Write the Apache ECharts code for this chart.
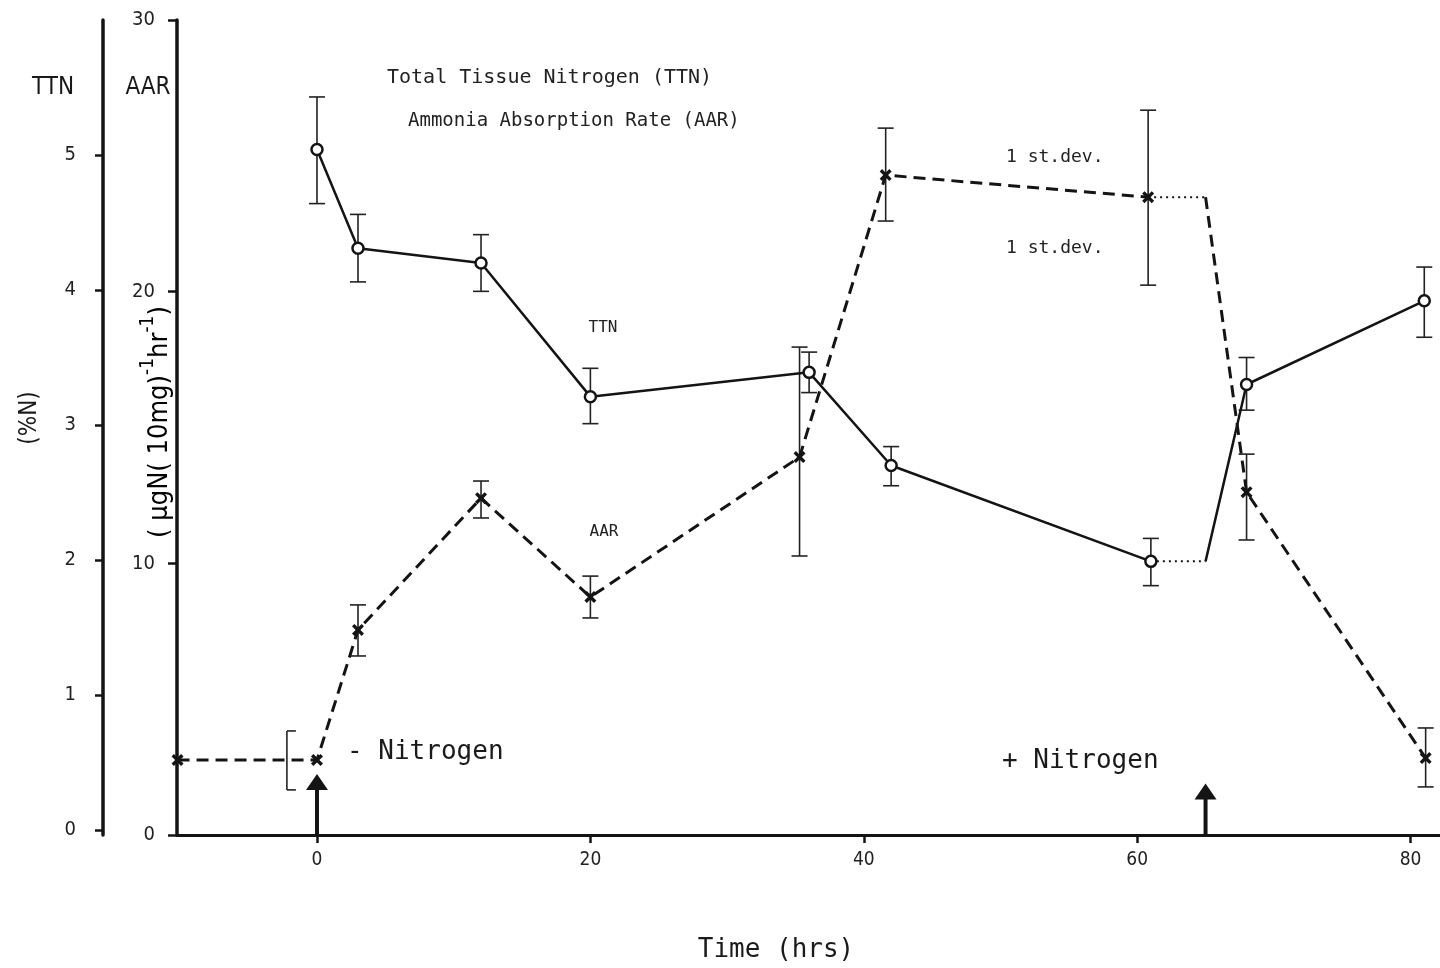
<!DOCTYPE html>
<html>
<head>
<meta charset="utf-8">
<script src="https://cdn.jsdelivr.net/npm/echarts@6/dist/echarts.min.js"></script>
<style>
  html, body { margin: 0; padding: 0; background: #fff; }
  #chart { width: 1440px; height: 968px; }
</style>
</head>
<body>
<div id="chart"></div>
<script>
// ---- Data ----
const xTicks = [0, 20, 40, 60, 80];
const ttnTicks = [0, 1, 2, 3, 4, 5];
const aarTicks = [0, 10, 20, 30];

// Total Tissue Nitrogen (%N)
const ttnHours = [0, 3, 12, 20, 36, 42, 61, 68, 81];
const ttnValues = [5.04, 4.31, 4.20, 3.21, 3.39, 2.70, 1.99, 3.30, 3.92];
const ttnLow = [4.64, 4.06, 3.99, 3.01, 3.24, 2.55, 1.81, 3.11, 3.65];
const ttnHigh = [5.43, 4.56, 4.41, 3.42, 3.54, 2.84, 2.16, 3.50, 4.17];

// Ammonia Absorption Rate (µgN (10mg)^-1 hr^-1)
const aarHours = [-10.2, 0, 3, 12, 20, 35.3, 41.6, 60.8, 68, 81.1];
const aarValues = [2.76, 2.76, 7.55, 12.40, 8.76, 13.91, 24.29, 23.48, 12.62, 2.83];
const aarLow = [null, null, 6.59, 11.67, 7.99, 10.27, 22.60, 20.24, 10.86, 1.77];
const aarHigh = [null, null, 8.47, 13.03, 9.53, 17.96, 26.02, 26.68, 14.02, 3.94];
// st.dev. bracket of the control period, drawn just left of the 0 h point
const aarControlBracket = [-2.2, 1.66, 3.83];

// Nitrogen removed (0 h) and re-supplied (65 h)
const nitrogenChangeHours = [0, 65];
const arrowTops = [2.25, 1.9]; // in AAR units

// ---- Helpers ----
function splitSeries(xs, ys, t) {
  const before = [], after = [];
  xs.forEach((x, i) => { if (x < t) before.push([x, ys[i]]); else after.push([x, ys[i]]); });
  const last = before[before.length - 1];
  const joint = [t, last[1]];
  return { before, dotted: [last, joint], after: [joint].concat(after) };
}
const ttnParts = splitSeries(ttnHours, ttnValues, nitrogenChangeHours[1]);
const aarParts = splitSeries(aarHours, aarValues, nitrogenChangeHours[1]);

const ttnErr = ttnHours.map((x, i) => [x, ttnLow[i], ttnHigh[i]]);
const aarErr = aarHours.map((x, i) => [x, aarLow[i], aarHigh[i]]).filter(d => d[1] != null);

const INK = '#141414';
const MONO = '"DejaVu Sans Mono", "Liberation Mono", monospace';
const SANS = '"DejaVu Sans Condensed", "DejaVu Sans", sans-serif';
const WIDE = '"DejaVu Sans", sans-serif';

function errRenderer(capLeft, capRight) {
  return function (params, api) {
    const x = api.value(0), lo = api.value(1), hi = api.value(2);
    const a = api.coord([x, lo]), b = api.coord([x, hi]);
    const st = { stroke: '#222', lineWidth: 1.6 };
    return {
      type: 'group',
      children: [
        { type: 'line', shape: { x1: a[0], y1: a[1], x2: b[0], y2: b[1] }, style: st },
        { type: 'line', shape: { x1: a[0] - capLeft, y1: a[1], x2: a[0] + capRight, y2: a[1] }, style: st },
        { type: 'line', shape: { x1: b[0] - capLeft, y1: b[1], x2: b[0] + capRight, y2: b[1] }, style: st }
      ]
    };
  };
}

function arrowRenderer(params, api) {
  const x = api.value(0), top = api.value(1);
  const base = api.coord([x, 0]), tip = api.coord([x, top]);
  const hh = 16, hw = 11;
  return {
    type: 'group',
    children: [
      { type: 'rect', shape: { x: tip[0] - 2, y: tip[1] + hh - 1, width: 4, height: base[1] - tip[1] - hh + 1 }, style: { fill: INK } },
      { type: 'polygon', shape: { points: [[tip[0], tip[1]], [tip[0] - hw, tip[1] + hh], [tip[0] + hw, tip[1] + hh]] }, style: { fill: INK } }
    ]
  };
}

const crossPath = 'path://M0,2 L2,0 L5,3 L8,0 L10,2 L7,5 L10,8 L8,10 L5,7 L2,10 L0,8 L3,5 Z';

const chart = echarts.init(document.getElementById('chart'), null, { renderer: 'canvas' });

const option = {
  animation: false,
  backgroundColor: '#fff',
  grid: { left: 177, right: 0, top: 20, bottom: 133, containLabel: false, outerBoundsMode: 'none' },
  xAxis: {
    type: 'value', min: -10.24, max: 82.15,
    axisLine: { onZero: false, lineStyle: { color: INK, width: 3 } },
    axisTick: { customValues: xTicks, length: 8, lineStyle: { color: INK, width: 2.5 } },
    axisLabel: { customValues: xTicks, fontSize: 19, margin: 16, color: '#222', fontFamily: SANS },
    splitLine: { show: false }
  },
  yAxis: [
    {
      type: 'value', position: 'left', min: 0, max: 30,
      axisLine: { show: true, onZero: false, lineStyle: { color: INK, width: 3.5 } },
      axisTick: { show: true, customValues: aarTicks, length: 9, lineStyle: { color: INK, width: 2.5 } },
      axisLabel: { customValues: aarTicks, fontSize: 20, margin: 22, color: '#222', fontFamily: SANS },
      splitLine: { show: false }
    },
    {
      type: 'value', position: 'left', offset: 74, min: -0.037, max: 6.0,
      axisLine: { show: true, onZero: false, lineStyle: { color: INK, width: 3.5 } },
      axisTick: { show: true, customValues: ttnTicks, length: 8, lineStyle: { color: INK, width: 2.5 } },
      axisLabel: { customValues: ttnTicks, fontSize: 20, margin: 27, color: '#222', fontFamily: SANS },
      splitLine: { show: false }
    }
  ],
  series: [
    // TTN lines
    { type: 'line', yAxisIndex: 1, data: ttnParts.before, symbol: 'none', lineStyle: { color: INK, width: 2.5 }, z: 3 },
    { type: 'line', yAxisIndex: 1, data: ttnParts.dotted, symbol: 'none', lineStyle: { color: INK, width: 2, type: [2, 4] }, z: 3 },
    { type: 'line', yAxisIndex: 1, data: ttnParts.after, symbol: 'none', lineStyle: { color: INK, width: 2.5 }, z: 3 },
    // AAR lines
    { type: 'line', yAxisIndex: 0, data: aarParts.before, symbol: 'none', lineStyle: { color: INK, width: 3, type: [12, 7] }, z: 3 },
    { type: 'line', yAxisIndex: 0, data: aarParts.dotted, symbol: 'none', lineStyle: { color: INK, width: 2, type: [2, 4] }, z: 3 },
    { type: 'line', yAxisIndex: 0, data: aarParts.after, symbol: 'none', lineStyle: { color: INK, width: 3, type: [12, 7] }, z: 3 },
    // Error bars
    { type: 'custom', yAxisIndex: 1, data: ttnErr, encode: { x: 0, y: [1, 2] }, renderItem: errRenderer(8, 8), z: 2 },
    { type: 'custom', yAxisIndex: 0, data: aarErr, encode: { x: 0, y: [1, 2] }, renderItem: errRenderer(8, 8), z: 2 },
    { type: 'custom', yAxisIndex: 0, data: [aarControlBracket], encode: { x: 0, y: [1, 2] }, renderItem: errRenderer(0, 9), z: 2 },
    // Arrows
    { type: 'custom', yAxisIndex: 0, data: nitrogenChangeHours.map((x, i) => [x, arrowTops[i]]), encode: { x: 0, y: 1 }, renderItem: arrowRenderer, z: 4 },
    // Markers
    { type: 'scatter', yAxisIndex: 1, data: ttnHours.map((x, i) => [x, ttnValues[i]]), symbol: 'circle', symbolSize: 11,
      itemStyle: { color: '#fff', borderColor: INK, borderWidth: 2.5, opacity: 1 }, z: 5 },
    { type: 'scatter', yAxisIndex: 0, data: aarHours.map((x, i) => [x, aarValues[i]]), symbol: crossPath, symbolSize: 12,
      itemStyle: { color: INK, opacity: 1 }, z: 5 }
  ],
  graphic: [
    { type: 'text', x: 53, y: 88, style: { text: 'TTN', font: '24px ' + SANS, fill: '#1a1a1a', align: 'center', verticalAlign: 'middle' } },
    { type: 'text', x: 148, y: 88, style: { text: 'AAR', font: '24px ' + SANS, fill: '#1a1a1a', align: 'center', verticalAlign: 'middle' } },
    { type: 'text', x: 30, y: 418, rotation: Math.PI / 2, style: { text: '(%N)', font: '24px ' + SANS, fill: '#1a1a1a', align: 'center', verticalAlign: 'middle' } },
    { type: 'text', x: 156, y: 422, rotation: Math.PI / 2,
      style: {
        text: '{b|( µgN( 10mg)}{s|-1}{b|hr}{s|-1}{b|)}',
        align: 'center', verticalAlign: 'middle',
        rich: {
          b: { fontSize: 27, fontFamily: SANS, color: '#1a1a1a', lineHeight: 34, verticalAlign: 'bottom' },
          s: { fontSize: 19, fontFamily: SANS, color: '#1a1a1a', lineHeight: 34, verticalAlign: 'top', padding: [0, 0, 10, 0] }
        }
      }
    },
    { type: 'text', x: 387, y: 78, style: { text: 'Total Tissue Nitrogen (TTN)', font: '20px ' + MONO, fill: '#222', align: 'left', verticalAlign: 'middle' } },
    { type: 'text', x: 408, y: 121, style: { text: 'Ammonia Absorption Rate (AAR)', font: '19px ' + MONO, fill: '#222', align: 'left', verticalAlign: 'middle' } },
    { type: 'text', x: 603, y: 328, style: { text: 'TTN', font: '16px ' + MONO, fill: '#222', align: 'center', verticalAlign: 'middle' } },
    { type: 'text', x: 604, y: 532, style: { text: 'AAR', font: '16px ' + MONO, fill: '#222', align: 'center', verticalAlign: 'middle' } },
    { type: 'text', x: 1006, y: 157, style: { text: '1 st.dev.', font: '18px ' + MONO, fill: '#222', align: 'left', verticalAlign: 'middle' } },
    { type: 'text', x: 1006, y: 248, style: { text: '1 st.dev.', font: '18px ' + MONO, fill: '#222', align: 'left', verticalAlign: 'middle' } },
    { type: 'text', x: 347, y: 752, style: { text: '- Nitrogen', font: '26px ' + MONO, fill: '#1a1a1a', align: 'left', verticalAlign: 'middle' } },
    { type: 'text', x: 1002, y: 761, style: { text: '+ Nitrogen', font: '26px ' + MONO, fill: '#1a1a1a', align: 'left', verticalAlign: 'middle' } },
    { type: 'text', x: 776, y: 950, style: { text: 'Time (hrs)', font: '26px ' + MONO, fill: '#1a1a1a', align: 'center', verticalAlign: 'middle' } }
  ]
};
chart.setOption(option);
</script>
</body>
</html>
